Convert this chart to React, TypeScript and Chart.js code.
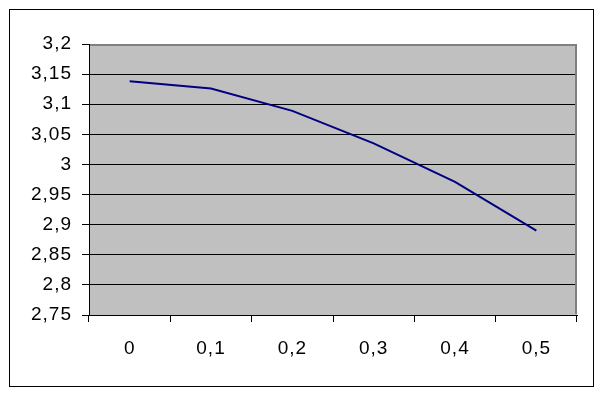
import React, { useEffect, useRef } from "react";
import { Chart, registerables } from "chart.js";

Chart.register(...registerables);

const categories: string[] = ["0", "0,1", "0,2", "0,3", "0,4", "0,5"];
const seriesValues: number[] = [3.138, 3.126, 3.089, 3.035, 2.971, 2.89];
const yMin = 2.75;
const yMax = 3.2;
const yStep = 0.05;

const FONT = "'Liberation Sans', Arial, sans-serif";

const setSpacing = (chart: any) => {
  try {
    chart.ctx.letterSpacing = "1px";
  } catch (e) {}
};

const plotDecor = {
  id: "plotDecor",
  beforeLayout(chart: any) {
    setSpacing(chart);
  },
  beforeDraw(chart: any) {
    setSpacing(chart);
    const { ctx, chartArea } = chart;
    ctx.save();
    ctx.fillStyle = "#C0C0C0";
    ctx.fillRect(chartArea.left, chartArea.top, chartArea.right - chartArea.left, chartArea.bottom - chartArea.top);
    ctx.restore();
  },
  afterDraw(chart: any) {
    const { ctx, chartArea } = chart;
    ctx.save();
    ctx.strokeStyle = "#808080";
    ctx.lineWidth = 2;
    ctx.beginPath();
    ctx.moveTo(chartArea.left + 1, chartArea.top + 1);
    ctx.lineTo(chartArea.right - 1, chartArea.top + 1);
    ctx.lineTo(chartArea.right - 1, chartArea.bottom - 1);
    ctx.stroke();
    ctx.restore();
  },
};

export default function App() {
  const ref = useRef<HTMLCanvasElement | null>(null);
  useEffect(() => {
    if (!ref.current) return;
    const chart = new Chart(ref.current, {
      type: "line",
      data: {
        labels: categories,
        datasets: [
          {
            data: seriesValues,
            borderColor: "#000080",
            borderWidth: 2,
            pointRadius: 0,
            tension: 0,
            fill: false,
          },
        ],
      },
      options: {
        animation: false,
        responsive: false,
        maintainAspectRatio: false,
        layout: { padding: { top: 44, right: 26, left: 0, bottom: 0 } },
        plugins: { legend: { display: false }, tooltip: { enabled: false } },
        scales: {
          x: {
            type: "category",
            offset: true,
            afterFit: (s: any) => {
              s.height = 79;
            },
            grid: {
              offset: true,
              drawOnChartArea: false,
              drawTicks: true,
              tickLength: 7,
              color: "#000000",
              lineWidth: 1,
            },
            border: { display: true, color: "#000000", width: 1 },
            ticks: {
              color: "#000000",
              font: { family: FONT, size: 19 },
              padding: 15,
              maxRotation: 0,
              autoSkip: false,
            },
          },
          y: {
            min: yMin,
            max: yMax,
            afterFit: (s: any) => {
              s.width = 89;
            },
            grid: {
              color: "#000000",
              lineWidth: 1,
              drawTicks: true,
              tickLength: 7,
            },
            border: { display: true, color: "#000000", width: 1 },
            ticks: {
              stepSize: yStep,
              color: "#000000",
              font: { family: FONT, size: 19 },
              padding: 10,
              callback: (v: any) => {
                const n = Math.round(Number(v) * 100) / 100;
                return String(n).replace(".", ",");
              },
            },
          },
        },
      },
      plugins: [plotDecor],
    });
    return () => chart.destroy();
  }, []);

  return (
    <div style={{ position: "absolute", left: 0, top: 0, width: 603, height: 394, background: "#fff" }}>
      <div
        style={{
          position: "absolute",
          left: 9,
          top: 9,
          width: 585,
          height: 378,
          border: "1px solid #000",
          boxSizing: "border-box",
        }}
      />
      <canvas ref={ref} width={603} height={394} style={{ position: "absolute", left: 0, top: 0 }} />
    </div>
  );
}
